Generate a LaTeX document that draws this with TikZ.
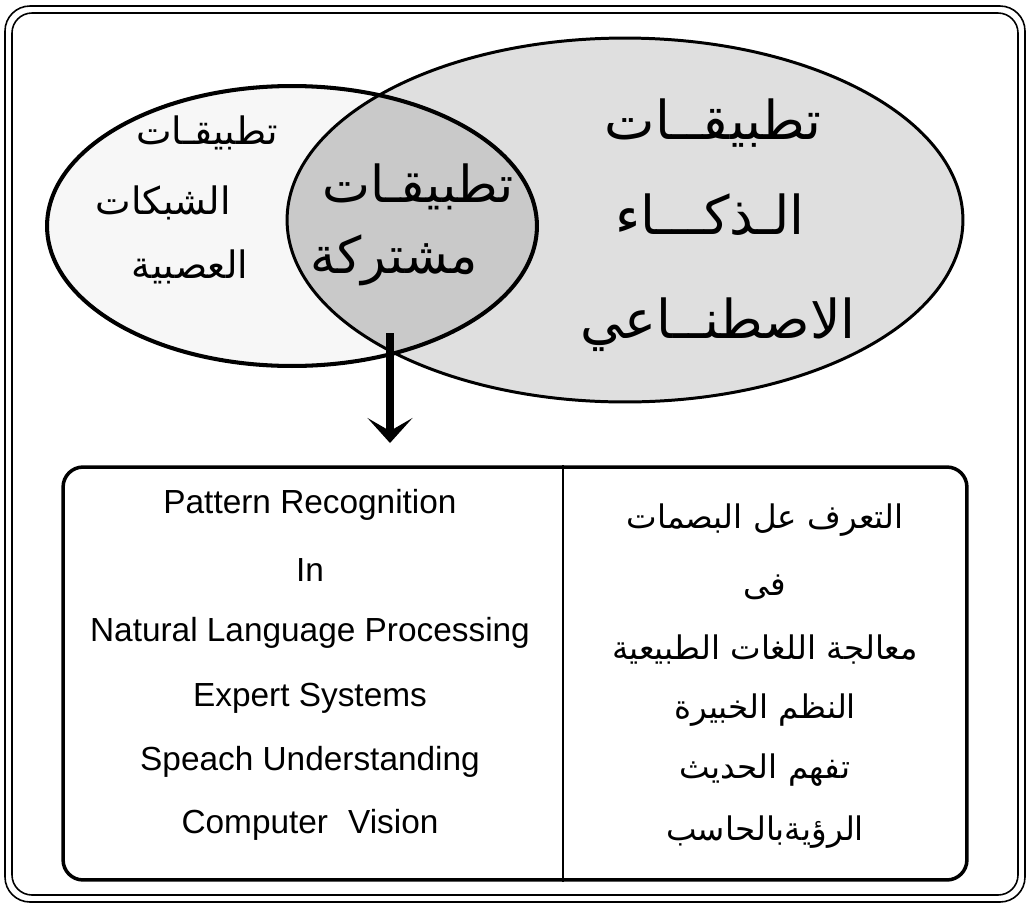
\documentclass[tikz,border=0pt]{standalone}
\usepackage{fontspec}
\setmainfont{Liberation Sans}
\newfontfamily\arabicfont[Script=Arabic]{DejaVu Sans}
\TeXXeTstate=1
\usetikzlibrary{arrows.meta}

\newcommand{\artxt}[1]{\arabicfont\beginR #1\endR}

\tikzset{
    frameline/.style={line width=0.9pt},
    venn/.style={line width=1.7pt},
    entext/.style={font=\fontsize{19}{22}\selectfont},
    boxtext/.style={font=\arabicfont\fontsize{18.5}{22}\selectfont},
    smalltext/.style={font=\arabicfont\fontsize{21.5}{24}\selectfont},
    lenstext/.style={font=\arabicfont\fontsize{29}{32}\selectfont},
    bigtext/.style={font=\arabicfont\fontsize{30.5}{34}\selectfont},
    pointer/.style={line width=4.5pt, -{Stealth[length=5mm, width=9mm, inset=2.6mm]}}
}

\begin{document}
\begin{tikzpicture}[x=0.02cm, y=-0.02cm]
    \useasboundingbox (0,0) rectangle (1029,907);
    \draw[frameline, rounded corners=0.5cm] (5,6) rectangle (1025,902);
    \draw[frameline, rounded corners=0.4cm] (12,13) rectangle (1018,895);

    \fill[gray!25] (625,220) ellipse [x radius=6.76cm, y radius=3.64cm];
    \fill[gray!6] (292,226) ellipse [x radius=4.9cm, y radius=2.8cm];
    \begin{scope}
        \clip (292,226) ellipse [x radius=4.9cm, y radius=2.8cm];
        \fill[gray!42] (625,220) ellipse [x radius=6.76cm, y radius=3.64cm];
    \end{scope}
    \draw[venn] (625,220) ellipse [x radius=6.76cm, y radius=3.64cm];
    \draw[venn, line width=2.3pt] (292,226) ellipse [x radius=4.9cm, y radius=2.8cm];

    \node[smalltext] (nn1) at (207,133) {\artxt{تطبيقـات}};
    \node[smalltext] (nn2) at (163,203) {\artxt{الشبكات}};
    \node[smalltext] (nn3) at (190,267) {\artxt{العصبية}};

    \node[lenstext] (both1) at (418,187) {\artxt{تطبيقـات}};
    \node[lenstext] (both2) at (394,260) {\artxt{مشتركة}};

    \node[bigtext] (ai1) at (713,123) {\artxt{تطبيقــات}};
    \node[bigtext] (ai2) at (710,215) {\artxt{الـذكـــاء}};
    \node[bigtext] (ai3) at (718,325) {\artxt{الاصطنــاعي}};

    \coordinate (lensbot) at (390,333);
    \coordinate (tip) at (390,443);
    \draw[pointer] (lensbot) -- (tip);

    \node[draw, line width=2pt, rounded corners=0.4cm, minimum width=18.08cm, minimum height=8.26cm] (listbox) at (515,673.5) {};
    \coordinate (divx) at (563,0);
    \draw[line width=1.5pt] (listbox.north -| divx) -- (listbox.south -| divx);

    \node[entext] (pr) at (310,505) {Pattern Recognition};
    \node[entext] (in) at (310,570) {In};
    \node[entext] (nlp) at (310,633) {Natural Language Processing};
    \node[entext] (es) at (310,698) {Expert Systems};
    \node[entext] (su) at (310,762) {Speach Understanding};
    \node[entext] (cv) at (310,825) {Computer\hspace{0.6em}Vision};

    \node[boxtext] (arpr) at (765,520) {\artxt{التعرف عل البصمات}};
    \node[boxtext] (arin) at (765,587) {\artxt{فى}};
    \node[boxtext] (arnlp) at (765,650) {\artxt{معالجة اللغات الطبيعية}};
    \node[boxtext] (ares) at (765,710) {\artxt{النظم الخبيرة}};
    \node[boxtext] (arsu) at (765,770) {\artxt{تفهم الحديث}};
    \node[boxtext] (arcv) at (765,832) {\artxt{الرؤيةبالحاسب}};
\end{tikzpicture}
\end{document}
